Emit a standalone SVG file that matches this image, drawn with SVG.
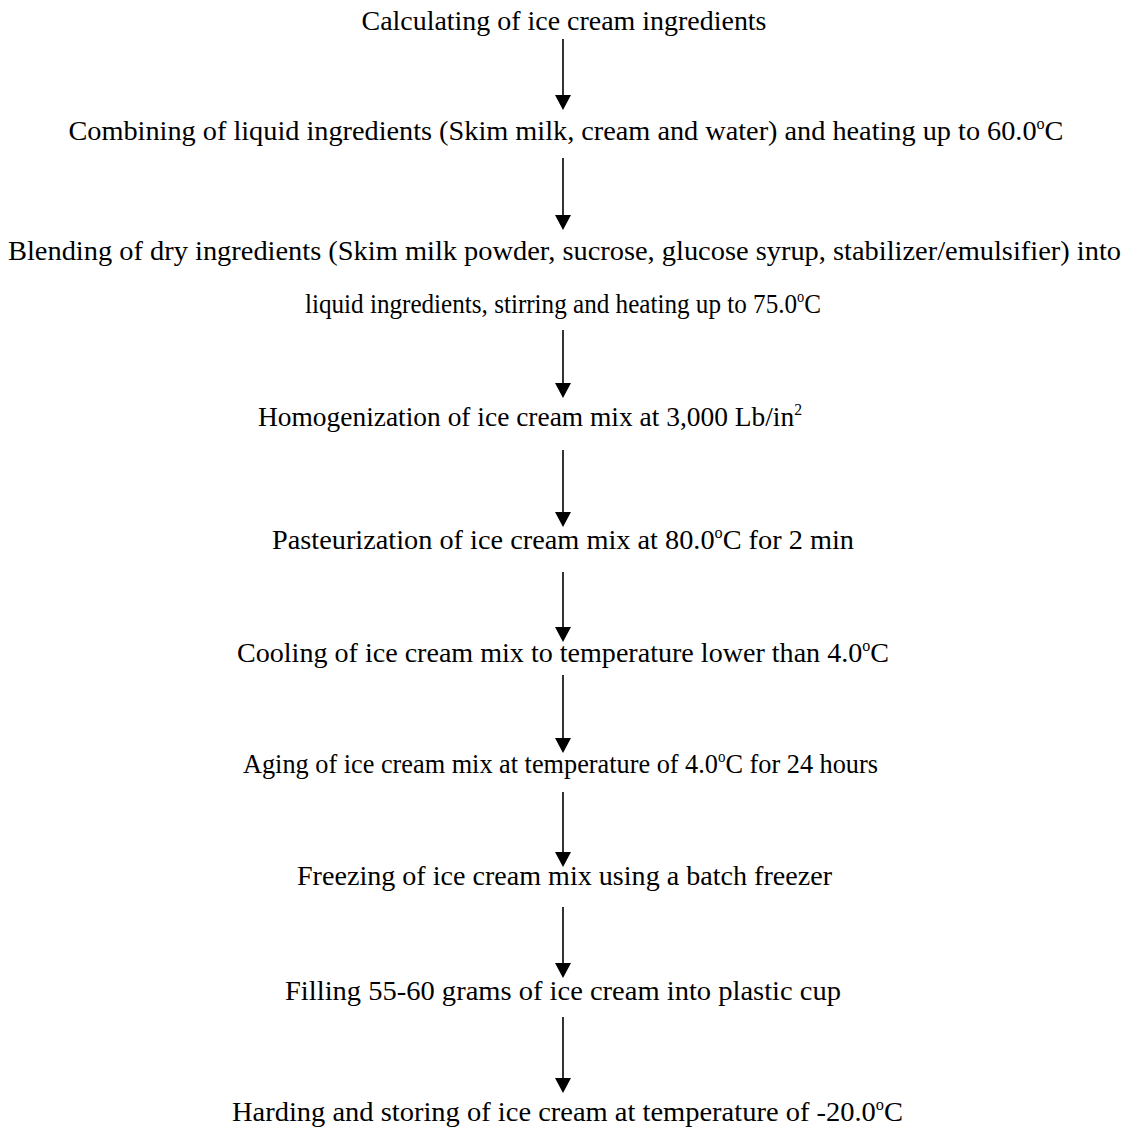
<svg xmlns="http://www.w3.org/2000/svg" width="1129" height="1133" viewBox="0 0 1129 1133">
<style>
.t{font-family:"Liberation Serif","Times New Roman",serif;font-size:28px;fill:#000;text-anchor:middle}
.s{font-size:16px}
.c line{stroke:#000;stroke-width:1.6}
.c polygon{fill:#000}
</style>
<rect width="1129" height="1133" fill="#fff"/>
<g id="n1"><text class="t" x="564" y="30" textLength="405" lengthAdjust="spacingAndGlyphs">Calculating of ice cream ingredients</text></g>
<g id="n2"><text class="t" x="566" y="140" textLength="995" lengthAdjust="spacingAndGlyphs">Combining of liquid ingredients (Skim milk, cream and water) and heating up to 60.0<tspan class="s" dy="-11">o</tspan><tspan dy="11">C</tspan></text></g>
<g id="n3"><text class="t" x="564.5" y="260" textLength="1113" lengthAdjust="spacingAndGlyphs">Blending of dry ingredients (Skim milk powder, sucrose, glucose syrup, stabilizer/emulsifier) into</text>
<text class="t" x="563" y="313" textLength="516" lengthAdjust="spacingAndGlyphs">liquid ingredients, stirring and heating up to 75.0<tspan class="s" dy="-11">o</tspan><tspan dy="11">C</tspan></text></g>
<g id="n4"><text class="t" x="530" y="426" textLength="544" lengthAdjust="spacingAndGlyphs">Homogenization of ice cream mix at 3,000 Lb/in<tspan class="s" dy="-11">2</tspan></text></g>
<g id="n5"><text class="t" x="563" y="549" textLength="582" lengthAdjust="spacingAndGlyphs">Pasteurization of ice cream mix at 80.0<tspan class="s" dy="-11">o</tspan><tspan dy="11">C for 2 min</tspan></text></g>
<g id="n6"><text class="t" x="563" y="662" textLength="652" lengthAdjust="spacingAndGlyphs">Cooling of ice cream mix to temperature lower than 4.0<tspan class="s" dy="-11">o</tspan><tspan dy="11">C</tspan></text></g>
<g id="n7"><text class="t" x="560.5" y="773" textLength="635" lengthAdjust="spacingAndGlyphs">Aging of ice cream mix at temperature of 4.0<tspan class="s" dy="-11">o</tspan><tspan dy="11">C for 24 hours</tspan></text></g>
<g id="n8"><text class="t" x="564.5" y="885" textLength="535" lengthAdjust="spacingAndGlyphs">Freezing of ice cream mix using a batch freezer</text></g>
<g id="n9"><text class="t" x="563" y="1000" textLength="556" lengthAdjust="spacingAndGlyphs">Filling 55-60 grams of ice cream into plastic cup</text></g>
<g id="n10"><text class="t" x="567.5" y="1121" textLength="671" lengthAdjust="spacingAndGlyphs">Harding and storing of ice cream at temperature of -20.0<tspan class="s" dy="-11">o</tspan><tspan dy="11">C</tspan></text></g>
<g id="connectors" class="c">
<line x1="563" y1="39" x2="563" y2="96"/><polygon points="563,110 555,95 571,95"/>
<line x1="563" y1="158" x2="563" y2="216"/><polygon points="563,230 555,215 571,215"/>
<line x1="563" y1="330" x2="563" y2="384"/><polygon points="563,398 555,383 571,383"/>
<line x1="563" y1="450" x2="563" y2="513"/><polygon points="563,527 555,512 571,512"/>
<line x1="563" y1="572" x2="563" y2="628"/><polygon points="563,642 555,627 571,627"/>
<line x1="563" y1="675" x2="563" y2="739"/><polygon points="563,753 555,738 571,738"/>
<line x1="563" y1="792" x2="563" y2="853"/><polygon points="563,867 555,852 571,852"/>
<line x1="563" y1="907" x2="563" y2="964"/><polygon points="563,978 555,963 571,963"/>
<line x1="563" y1="1017" x2="563" y2="1079"/><polygon points="563,1093 555,1078 571,1078"/>
</g>
</svg>
